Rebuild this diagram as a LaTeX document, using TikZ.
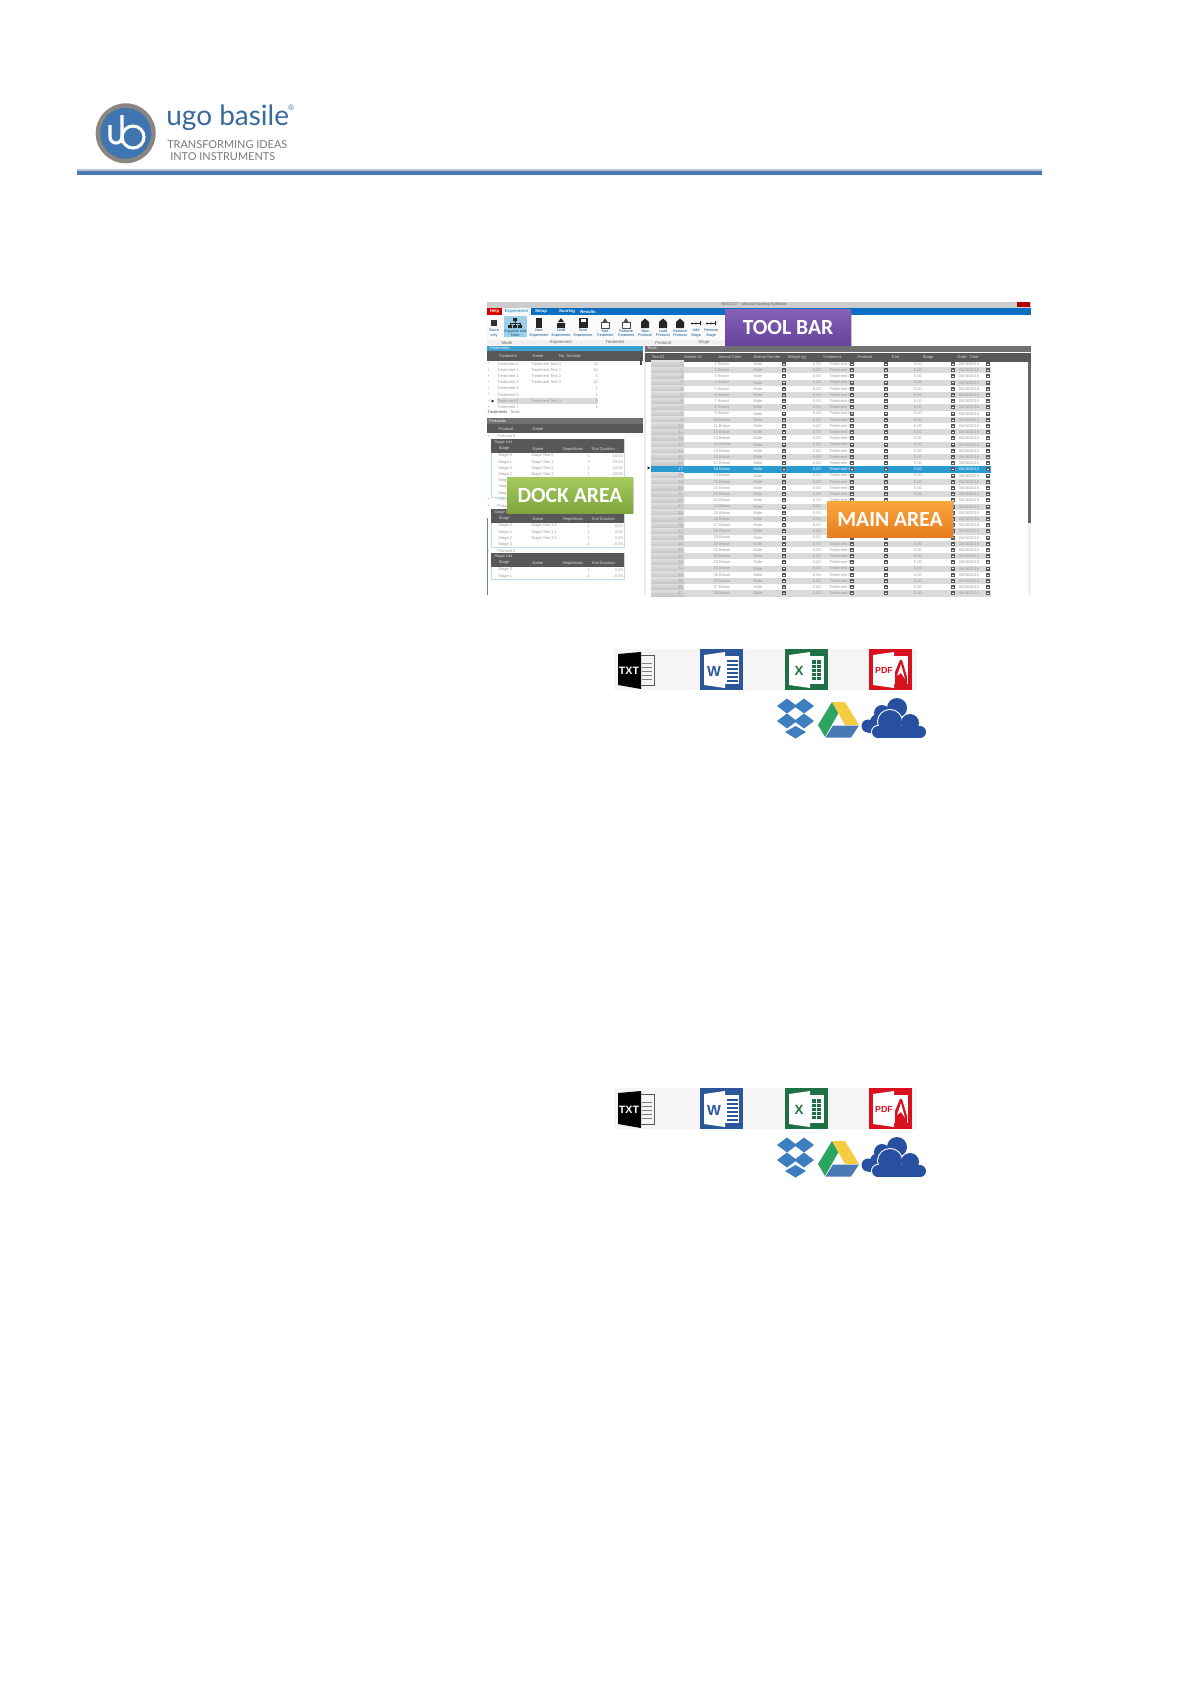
\documentclass[tikz,border=0pt]{standalone}
\usepackage{fontspec}
\setmainfont{Liberation Sans}
\newfontfamily\logofont{Lato}
\newfontfamily\areafont{Carlito}
\usetikzlibrary{shadows}
\definecolor{ubblue}{HTML}{3F75B0}
\definecolor{ubgray}{HTML}{8A8680}
\definecolor{linelight}{HTML}{B4C6DC}
\definecolor{linedeep}{HTML}{4A79B4}
\definecolor{menublue}{HTML}{0A6FC2}
\definecolor{panelblue}{HTML}{3AA0D0}
\definecolor{rowblue}{HTML}{2A9BD2}
\definecolor{darkhead}{HTML}{585858}
\definecolor{rowgray}{HTML}{DADADA}
\definecolor{idgray}{HTML}{C2C2C2}
\definecolor{idlight}{HTML}{DDDDDD}
\definecolor{celltext}{HTML}{9A9A9A}
\definecolor{wordblue}{HTML}{2B579A}
\definecolor{excelgreen}{HTML}{1E7145}
\definecolor{pdfred}{HTML}{D9101E}
\definecolor{dropblue}{HTML}{3D7EBF}
\definecolor{cloudblue}{HTML}{2850A0}
\definecolor{drivegreen}{HTML}{2BA560}
\definecolor{driveyellow}{HTML}{F7CB3F}
\definecolor{toolA}{HTML}{8562B8}
\definecolor{toolB}{HTML}{65439A}
\definecolor{dockA}{HTML}{A4CB5C}
\definecolor{dockB}{HTML}{7FA53C}
\definecolor{mainA}{HTML}{FAA63F}
\definecolor{mainB}{HTML}{E67E1E}

\begin{document}
\begin{tikzpicture}[x=0.75pt,y=-0.75pt]
    \tikzset{cell/.style = {inner sep=0, text=celltext, font=\fontsize{3}{3}\selectfont}}
    \tikzset{headcell/.style = {cell, text=white!85!black}}
    \tikzset{menucell/.style = {cell, text=white, font=\fontsize{3.2}{3.2}\selectfont\bfseries}}
    \tikzset{ribbontext/.style = {cell, text=black!25!menublue, align=center, font=\fontsize{2.8}{3.2}\selectfont}}
    \tikzset{groupcell/.style = {cell, text=black!60, font=\fontsize{3.2}{3.2}\selectfont}}
    \tikzset{rowbtn/.style = {inner sep=0, minimum size=3pt, fill=black!65}}
    \tikzset{areabox/.style = {inner sep=0, text=white, minimum width=94.5pt, minimum height=27pt,
        drop shadow={shadow xshift=0.8pt, shadow yshift=-0.8pt, opacity=0.35},
        font=\areafont\fontsize{16.2}{16.2}\selectfont\bfseries}}
    \tikzset{exporticons/.pic = {
        \fill[black!4] (614,649) rectangle (917,690);
        % txt
        \fill[black] (618,654) -- (641,652) -- (641,689) -- (618,685) -- cycle;
        \draw[black!65, line width=0.7pt] (641,655.5) -- (654,655.5) -- (654,685.5) -- (641,685.5);
        \foreach \ly in {663,667,671,675,679} \draw[black!50, line width=0.6pt] (642,\ly) -- (652,\ly);
        \node[inner sep=0, text=white, font=\fontsize{8}{8}\selectfont\bfseries] (txt) at (629,671) {TXT};
        % word, excel, pdf
        \foreach \px/\col in {700/wordblue, 785/excelgreen, 869/pdfred} {
            \fill[\col] (\px,649) rectangle ++(43,41);
            \fill[white] (\px+4,655) -- (\px+25,652) -- (\px+25,688) -- (\px+4,685) -- cycle;
            \fill[white] (\px+25,656) rectangle (\px+39,684);
        }
        \foreach \ly in {661,665,669,673,677,681} \draw[wordblue, line width=0.8pt] (727,\ly) -- (738,\ly);
        \fill[excelgreen] (812,660) rectangle (821,680);
        \foreach \ly in {664,668,672,676} \draw[white, line width=0.6pt] (812,\ly) -- (821,\ly);
        \draw[white, line width=0.6pt] (816,660) -- (816,680);
        \node[inner sep=0, text=wordblue, font=\fontsize{11}{11}\selectfont\bfseries] (wordw) at (714,671) {W};
        \node[inner sep=0, text=excelgreen, font=\fontsize{10}{10}\selectfont\bfseries] (excelx) at (799,671) {X};
        \node[inner sep=0, text=pdfred, font=\fontsize{6.6}{6.6}\selectfont\bfseries] (pdftext) at (884,670) {PDF};
        \fill[pdfred] (895,672) -- (900,660) -- (902,660) -- (907,677) -- (907,684) -- (895,684) -- cycle;
        \fill[white] (897,676) -- (901,664) -- (905,679) -- (901,673) -- cycle;
        % dropbox
        \foreach \dx/\dy in {787/706, 804/706, 787/721, 804/721}
            \fill[dropblue] (\dx-10,\dy) -- (\dx,\dy-7.5) -- (\dx+10,\dy) -- (\dx,\dy+7.5) -- cycle;
        \fill[dropblue] (785,732) -- (795.5,726) -- (806,732) -- (795.5,738.5) -- cycle;
        % drive
        \fill[drivegreen] (832,702) -- (838.5,713) -- (825,737) -- (818,725) -- cycle;
        \fill[driveyellow] (832,702) -- (845,702) -- (859,725) -- (845,725) -- cycle;
        \fill[linedeep] (833,725.5) -- (859,725.5) -- (851,737.5) -- (825.5,737.5) -- cycle;
        % cloud
        \foreach \cx/\cy/\cr in {897/708/10, 882/713/8, 868/726/6.5, 878/722/8}
            \fill[cloudblue] (\cx,\cy) circle (\cr);
        \fill[cloudblue] (868,720) rectangle (905,732.5);
        \begin{scope}
            \clip (850,690) rectangle (930,738);
            \foreach \cx/\cy/\cr in {890/722/12, 910/723/9, 920/732/6, 878/732/6}
                \draw[white, line width=1.5pt] (\cx,\cy) circle (\cr);
            \draw[white, line width=1.5pt] (878,728) rectangle (920,738);
            \foreach \cx/\cy/\cr in {890/722/12, 910/723/9, 920/732/6, 878/732/6}
                \fill[cloudblue] (\cx,\cy) circle (\cr);
            \fill[cloudblue] (878,726) rectangle (920,738);
        \end{scope}
    }}

    % page
    \useasboundingbox (0,0) rectangle (1192,1685);
    \fill[white] (0,0) rectangle (1192,1685);

    % logo
    \fill[ubgray] (125.7,133.3) circle (30);
    \fill[ubblue] (125.7,133.3) circle (25.5);
    \draw[white, line width=2.3pt] (110,125) -- (110,137) arc (180:0:6) (122,115) -- (122,143);
    \draw[white, line width=2.3pt] (133,137) circle (11);
    \node[anchor=base west, inner sep=0, text=ubblue!90!black, font=\logofont\fontsize{21}{21}\selectfont] (ugo) at (166,125) {ugo basile};
    \node[inner sep=0, text=ubblue, font=\fontsize{6}{6}\selectfont] (reg) at (291,108) {®};
    \node[anchor=base west, inner sep=0, text=black!52, font=\logofont\fontsize{8.2}{8.2}\selectfont] (tag) at (167,148.3) {TRANSFORMING IDEAS};
    \node[anchor=base west, inner sep=0, text=black!52, font=\logofont\fontsize{8.2}{8.2}\selectfont] (into) at (170,160) {INTO INSTRUMENTS};
    \fill[linelight] (77,169) rectangle (1042,171);
    \fill[linedeep] (77,171) rectangle (1042,175);

    % title bar, menu and ribbon
    \fill[black!20] (487,302) rectangle (1031,307.5);
    \fill[red!70!black] (1017,302) rectangle (1030,307);
    \node[cell, text=black!60] (title) at (754,304.5) {NAGCOT - Manual Scoring Software};
    \fill[menublue] (487,307.5) rectangle (1031,315);
    \fill[red!85!black] (487,307.5) rectangle (502,315);
    \fill[black!3] (502,307.5) rectangle (531,315);
    \node[menucell] (help) at (494.5,311.5) {Help};
    \node[menucell, text=panelblue] (exper) at (516.5,311.5) {Experiment};
    \foreach \mx/\mtext in {541/Setup, 567/Scoring, 588/Results}
        \node[menucell] (menu\mtext) at (\mx+0,311.5) {\mtext};
    \fill[black!2] (487,315) rectangle (725,345);
    \fill[black!6] (487,340) rectangle (725,345);
    \fill[panelblue!50] (504,316) rectangle (527,337);

    % ribbon buttons
    \foreach \bx/\bname/\btext in {494/score/Score\\only, 515/organize/Organize and\\Tests, 539/newexp/New\\Experiment,
        561/loadexp/Load\\Experiment, 583/saveexp/Save\\Experiment, 605/addtr/Add\\Treatment, 626/remtr/Remove\\Treatment,
        645/newpr/New\\Protocol, 663/loadpr/Load\\Protocol, 680/rempr/Remove\\Protocol, 696/addst/Add\\Stage, 711/remst/Remove\\Stage}
        \node[ribbontext] (\bname) at (\bx,333) {\btext};
    \fill[black!80] (491,320) rectangle (497,326);
    \fill[black!85] (513,318) rectangle (517,321) (508,325) rectangle (512,328) (513,325) rectangle (517,328) (518,325) rectangle (522,328);
    \draw[black!85, line width=0.5pt] (515,321) -- (515,325) (510,325) -- (510,323) -- (520,323) -- (520,325);
    \fill[black!85] (536,318) rectangle (542,328);
    \fill[black!85] (557,323) rectangle (565,328) (561,318) -- (564,322) -- (558,322) -- cycle;
    \fill[black!85] (579,318) rectangle (588,328);
    \fill[white] (581,319) rectangle (586,322);
    \foreach \bx in {605,626} {
        \draw[black!70, line width=0.5pt] (\bx-4,322) rectangle (\bx+4,328);
        \fill[black!70] (\bx,318) -- (\bx+2.5,322) -- (\bx-2.5,322) -- cycle;
    }
    \foreach \bx in {645,663,680}
        \fill[black!85] (\bx-4,328) rectangle (\bx+4,322) (\bx-4,322) -- (\bx,318.5) -- (\bx+4,322) -- cycle;
    \foreach \bx in {696,711} {
        \fill[black!85] (\bx-4,323.5) circle (1.2) (\bx,323.5) circle (1.2) (\bx+4,321) rectangle (\bx+5,325);
        \draw[black!85, line width=0.4pt] (\bx-4,323.5) -- (\bx+4,323.5);
    }
    \foreach \gx/\gtext in {507/Mode, 561/Experiment, 615/Treatment, 663/Protocol, 704/Stage}
        \node[groupcell] (grp\gtext) at (\gx,342.5) {\gtext};

    % treatments panel
    \fill[panelblue] (487,345.5) rectangle (643,351);
    \node[cell, anchor=west, text=white] (tpanel) at (489,348.3) {Treatments};
    \fill[darkhead] (487,351) rectangle (643,361);
    \foreach \hx/\htext in {508/Treatment, 538/Name, 570/No. Animals}
        \node[headcell] (th\hx) at (\hx,356.5) {\htext};
    \fill[rowgray] (497,398) rectangle (598,404);
    \foreach \i/\tname/\tnum in {0/Treatment Test 0/10, 1/Treatment Test 1/10, 2/Treatment Test 2/5, 3/Treatment Test 3/10, 4//1, 5//1, 6/Treatment Test 3/5, 7//1} {
        \pgfmathsetmacro{\ry}{363.7+6.2*\i}
        \node[cell] (tplus\i) at (488.5,\ry) {+};
        \node[cell, anchor=west] (tr\i) at (497,\ry) {Treatment \i};
        \node[cell, anchor=west] (tn\i) at (531,\ry) {\tname};
        \node[cell, anchor=east] (tv\i) at (598,\ry) {\tnum};
    }
    \fill[black] (491.5,399.5) -- (494,401) -- (491.5,402.5) -- cycle;
    \fill[black!70] (639.5,358) rectangle (642,365);
    \fill[white] (487,408) rectangle (644,418);
    \node[cell, anchor=west, text=black!70] (tabtreat) at (487,412) {Treatments};
    \node[cell, anchor=west, text=black!50] (tabtests) at (510,412) {Tests};

    % protocols panel
    \fill[darkhead!85] (487,418) rectangle (643,424);
    \fill[darkhead] (487,424) rectangle (643,433);
    \node[cell, anchor=west, text=white] (ppanel) at (489,421) {Protocols};
    \node[headcell] (ph1) at (506,429.5) {Protocol};
    \node[headcell] (ph2) at (538,429.5) {Name};
    \draw[black!50, line width=0.6pt] (487,518) -- (487,595);
    \fill[black!8] (644,345) rectangle (646,595);
    \foreach \py/\pname in {436/Protocol 0, 499/Protocol 1, 506/Protocol 2, 551/Protocol 3} {
        \node[cell] (prplus\py) at (488.5,\py) {+};
        \node[cell, anchor=west] (pr\py) at (497,\py) {\pname};
    }
    \foreach \tname/\ttop/\tbot in {a/439/497, b/509/547, c/553/579} {
        \draw[panelblue!35, line width=0.4pt] (491,\ttop) rectangle (624,\tbot);
        \fill[darkhead] (491,\ttop) rectangle (624,\ttop+13.5);
        \node[headcell, anchor=west] (st\tname) at (494,\ttop+3.5) {Stage List};
        \foreach \hx/\htext in {504/Stage, 538/Name, 573/Repetitions, 603/Trial Duration}
            \node[headcell] (sh\tname\hx) at (\hx,\ttop+10) {\htext};
    }
    \foreach \i/\sname/\srep/\stime in {0/Stage Test 0/1/10:00, 1/Stage Test 1/3/10:00, 2/Stage Test 2/1/10:00, 3/Stage Test 3/1/10:00} {
        \pgfmathsetmacro{\ry}{456+6.2*\i}
        \node[cell, anchor=west] (sa\i) at (498,\ry) {Stage \i};
        \node[cell, anchor=west] (san\i) at (531,\ry) {\sname};
        \node[cell, anchor=east] (sar\i) at (590,\ry) {\srep};
        \node[cell, anchor=east] (sat\i) at (623,\ry) {\stime};
    }
    \foreach \i in {4,5,6} {
        \pgfmathsetmacro{\ry}{456+6.2*\i}
        \node[cell, anchor=west] (sa\i) at (498,\ry) {Stage};
    }
    \foreach \i/\sname in {0/Stage Test 3.0, 1/Stage Test 3.1, 2/Stage Test 3.2, 3/} {
        \pgfmathsetmacro{\ry}{526+6.2*\i}
        \node[cell, anchor=west] (sb\i) at (498,\ry) {Stage \i};
        \node[cell, anchor=west] (sbn\i) at (531,\ry) {\sname};
        \node[cell, anchor=east] (sbr\i) at (590,\ry) {1};
        \node[cell, anchor=east] (sbt\i) at (623,\ry) {0:00};
    }
    \foreach \i in {0,1} {
        \pgfmathsetmacro{\ry}{570+6.2*\i}
        \node[cell, anchor=west] (sc\i) at (498,\ry) {Stage \i};
        \node[cell, anchor=east] (scr\i) at (590,\ry) {1};
        \node[cell, anchor=east] (sct\i) at (623,\ry) {0:00};
    }

    % tests panel
    \fill[darkhead!85] (645,345.5) rectangle (1031,351.5);
    \fill[darkhead] (645,353) rectangle (1031,362);
    \node[cell, anchor=west, text=white] (tests) at (647,348.5) {Tests};
    \foreach \hx/\htext in {658/Test ID, 693/Animal ID, 730/Animal Color, 767/Animal Gender, 797/Weight (g), 832/Treatment, 865/Protocol, 895/Trial, 928/Stage, 968/Date - Time}
        \node[headcell] (h\hx) at (\hx,357.5) {\htext};
    \fill[black!6] (1028,362) rectangle (1031,595);
    \fill[black!60] (1028,362) rectangle (1031,523);

    % test rows
    \foreach \i in {0,...,37} {
        \pgfmathsetmacro{\ry}{364+6.2*\i}
        \pgfmathtruncatemacro{\rnum}{\i+1}
        \def\tc{celltext}
        \ifodd\i \fill[rowgray] (684,\ry-3.1) rectangle (991,\ry+3.1); \fi
        \shade[top color=idlight, bottom color=idgray] (651,\ry-3.1) rectangle (684,\ry+3.1);
        \ifnum\i=17
            \fill[rowblue] (651,\ry-3.1) rectangle (991,\ry+3.1);
            \def\tc{white}
            \fill[black] (650,\ry-1.5) -- (647.5,\ry-3) -- (647.5,\ry) -- cycle;
        \fi
        \node[cell, anchor=east, text=\tc] (id\i) at (683,\ry) {\i};
        \node[cell, text=\tc] (animal\i) at (722,\ry) {\rnum\ Brown};
        \node[cell, text=\tc] (gender\i) at (758,\ry) {Male};
        \node[cell, anchor=east, text=\tc] (weight\i) at (821,\ry) {0.00};
        % rows 22 to 27 have their value under the main area label
        \ifnum\i<22 \node[cell, anchor=east, text=\tc] (trial\i) at (922,\ry) {5.00}; \fi
        \ifnum\i>27 \node[cell, anchor=east, text=\tc] (trial\i) at (922,\ry) {5.00}; \fi
        \node[cell, anchor=west, text=\tc] (treat\i) at (829,\ry) {Treatment \i};
        \node[cell, text=\tc] (date\i) at (969,\ry) {04/06/2015};
        \foreach \bx in {784,852,886,953,988} {
            \node[rowbtn] (btn\bx-\i) at (\bx,\ry) {};
            \draw[white, line width=0.25pt] (\bx-1,\ry) -- (\bx+1,\ry);
        }
    }

    % area labels
    \node[areabox, top color=toolA, bottom color=toolB] (toolbar) at (788,327) {TOOL BAR};
    \node[areabox, top color=dockA, bottom color=dockB] (dock) at (570,495) {DOCK AREA};
    \node[areabox, top color=mainA, bottom color=mainB] (mainarea) at (890,519) {MAIN AREA};

    % export icons
    \pic at (0,0) {exporticons};
    \pic at (0,439) {exporticons};
\end{tikzpicture}
\end{document}
